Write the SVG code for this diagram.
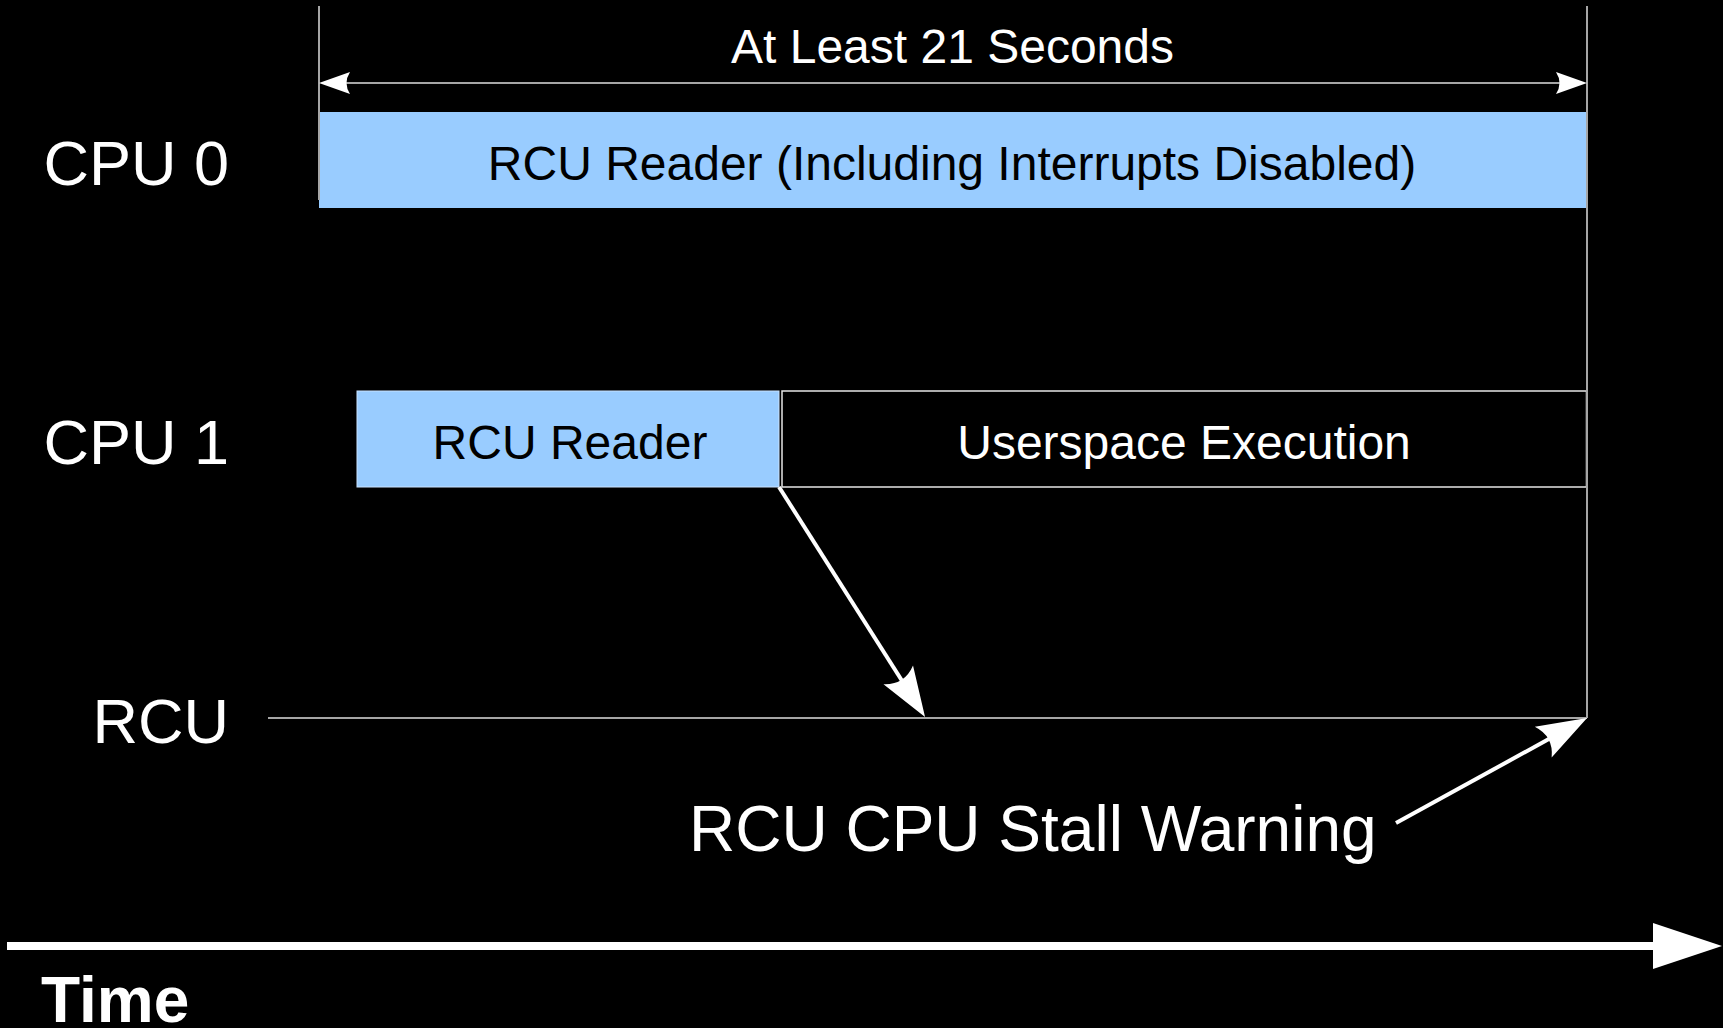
<svg xmlns="http://www.w3.org/2000/svg" width="1723" height="1028" viewBox="0 0 1723 1028">
  <style>
    .lbl { font-family: "Liberation Sans", Arial, sans-serif; fill: #ffffff; }
    .box-txt { font-family: "Liberation Sans", Arial, sans-serif; fill: #000000; font-size: 48px; text-anchor: middle; }
    .cpu { font-size: 63px; text-anchor: end; }
    .reader { fill: #99ccff; }
    .guide { stroke: #a6a6a6; stroke-width: 2; fill: none; }
    .arrow-w { stroke: #ffffff; stroke-width: 4; fill: none; }
  </style>
  <defs>
    <marker id="dimhead" markerUnits="userSpaceOnUse" orient="auto-start-reverse" refX="-25" refY="0" overflow="visible" markerWidth="1" markerHeight="1">
      <path d="M0,0 L-31,-11 Q-24,0 -31,11 Z" fill="#ffffff"/>
    </marker>
    <marker id="bighead" markerUnits="userSpaceOnUse" orient="auto" refX="-40" refY="0" overflow="visible" markerWidth="1" markerHeight="1">
      <path d="M0,0 L-50,-17.5 Q-38,0 -50,17.5 Z" fill="#ffffff"/>
    </marker>
  </defs>
  <rect x="0" y="0" width="1723" height="1028" fill="#000000"/>

  <g id="labels">
    <text class="lbl cpu" x="229" y="185">CPU 0</text>
    <text class="lbl cpu" x="229" y="464">CPU 1</text>
    <text class="lbl cpu" x="229" y="743">RCU</text>
  </g>

  <g id="cpu0-reader">
    <rect class="reader" x="319" y="112" width="1268" height="96"/>
    <text class="box-txt" x="952" y="180">RCU Reader (Including Interrupts Disabled)</text>
  </g>

  <g id="cpu1-reader">
    <rect class="reader" x="357" y="391" width="422" height="96" stroke="#c8e2ff" stroke-width="1"/>
    <text class="box-txt" x="570" y="459">RCU Reader</text>
  </g>

  <g id="cpu1-userspace">
    <rect x="782" y="391" width="804.5" height="96" fill="none" stroke="#e6e6e6" stroke-width="1.5"/>
    <text class="lbl" x="1184" y="459" font-size="48" text-anchor="middle">Userspace Execution</text>
  </g>

  <g id="duration-label">
    <text class="lbl" x="952.5" y="63" font-size="48" text-anchor="middle">At Least 21 Seconds</text>
  </g>

  <g id="stall-label">
    <text class="lbl" x="689" y="851" font-size="64">RCU CPU Stall Warning</text>
  </g>

  <g id="time-label">
    <text class="lbl" x="41" y="1022" font-size="64" font-weight="bold">Time</text>
  </g>

  <g id="connectors">
    <line class="guide" x1="319" y1="6" x2="319" y2="200"/>
    <line class="guide" x1="1587" y1="6" x2="1587" y2="718"/>
    <line class="guide" x1="344" y1="83" x2="1562" y2="83" marker-start="url(#dimhead)" marker-end="url(#dimhead)"/>
    <line class="guide" x1="268" y1="718" x2="1587" y2="718"/>
    <line class="arrow-w" x1="779" y1="487" x2="903.6" y2="683.2" marker-end="url(#bighead)"/>
    <line class="arrow-w" x1="1396" y1="823" x2="1552" y2="737.3" marker-end="url(#bighead)"/>
    <line x1="7" y1="946" x2="1656" y2="946" stroke="#ffffff" stroke-width="8"/>
    <polygon points="1653,923 1722,946 1653,969" fill="#ffffff"/>
  </g>
</svg>
